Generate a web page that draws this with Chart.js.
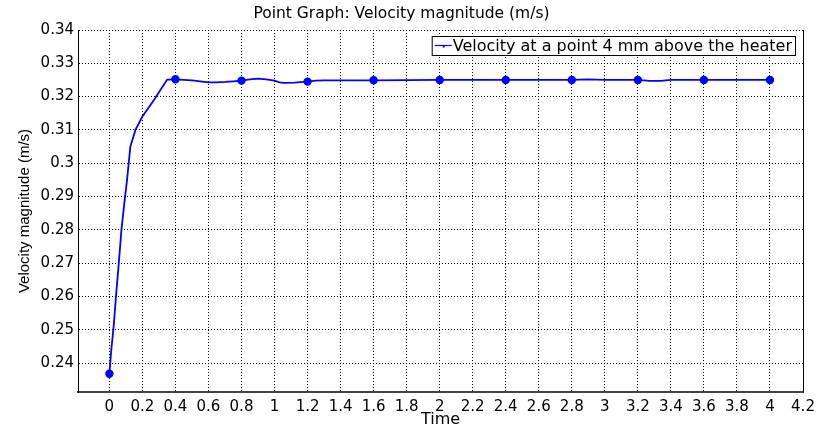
<!DOCTYPE html>
<html>
<head>
  <title>Point Graph: Velocity magnitude</title>
  <script src="https://cdn.jsdelivr.net/npm/chart.js"></script>
  <style>
    body { margin: 0; background: #fff; }
    canvas { display: block; }
  </style>
</head>
<body>
  <canvas id="pointChart" width="825" height="430"></canvas>

  <script>
    // values
    const timeValues = [0, 0.01, 0.026, 0.04, 0.057, 0.073, 0.093, 0.107, 0.127, 0.158, 0.2, 0.27, 0.35,
      0.4, 0.5, 0.55, 0.6, 0.65, 0.7, 0.75, 0.8, 0.85, 0.9, 0.95, 1.0, 1.03, 1.06, 1.12, 1.2, 1.25, 1.3,
      1.6, 2.0, 2.4, 2.8, 2.9, 3.0, 3.2, 3.27, 3.34, 3.4, 3.6, 4.0];
    const velocityValues = [0.2368, 0.2431, 0.2511, 0.26, 0.27, 0.28, 0.2891, 0.295, 0.305, 0.31, 0.314, 0.319, 0.3251,
      0.3252, 0.3249, 0.3246, 0.3243, 0.3243, 0.3244, 0.3246, 0.3248, 0.3252, 0.3254, 0.3252, 0.3248, 0.3243, 0.3241, 0.3242, 0.3245, 0.3248, 0.3249,
      0.3249, 0.325, 0.325, 0.325, 0.3252, 0.325, 0.325, 0.3247, 0.3247, 0.325, 0.325, 0.325];
    const markerTimes = [0, 0.4, 0.8, 1.2, 1.6, 2.0, 2.4, 2.8, 3.2, 3.6, 4.0];
    const xTickLabels = [0, 0.2, 0.4, 0.6, 0.8, 1, 1.2, 1.4, 1.6, 1.8, 2, 2.2, 2.4, 2.6, 2.8, 3, 3.2, 3.4, 3.6, 3.8, 4, 4.2];
    const yTickLabels = [0.24, 0.25, 0.26, 0.27, 0.28, 0.29, 0.3, 0.31, 0.32, 0.33, 0.34];
    const seriesName = 'Velocity at a point 4 mm above the heater';

    const FONT = 'DejaVu Sans';
    const points = timeValues.map((t, i) => ({ x: t, y: velocityValues[i] }));

    // legend box in the top right corner + solid right border
    const framePlugin = {
      id: 'frame',
      afterDraw(chart) {
        const { ctx, chartArea } = chart;
        ctx.save();
        ctx.strokeStyle = '#000';
        ctx.lineWidth = 1;
        ctx.beginPath();
        ctx.moveTo(chartArea.right + 0.5, chartArea.top);
        ctx.lineTo(chartArea.right + 0.5, chartArea.bottom);
        ctx.stroke();

        ctx.font = '16px "' + FONT + '"';
        const tw = ctx.measureText(seriesName).width;
        const w = tw + 24, h = 19;
        const x = chartArea.right - 8 - w, y = chartArea.top + 6;
        ctx.fillStyle = '#fff';
        ctx.fillRect(x, y, w, h);
        ctx.strokeRect(x + 0.5, y + 0.5, w, h);
        ctx.strokeStyle = '#0000ff';
        ctx.lineWidth = 1.2;
        ctx.beginPath();
        ctx.moveTo(x + 3, y + h / 2);
        ctx.lineTo(x + 20, y + h / 2);
        ctx.stroke();
        ctx.fillStyle = '#0000ff';
        ctx.fillRect(x + 11, y + h / 2, 2, 2);
        ctx.fillStyle = '#000';
        ctx.textBaseline = 'middle';
        ctx.fillText(seriesName, x + 21, y + h / 2 + 1);
        ctx.restore();
      }
    };

    new Chart(document.getElementById('pointChart'), {
      type: 'line',
      data: {
        datasets: [{
          label: seriesName,
          data: points,
          borderColor: '#0000ff',
          backgroundColor: '#0000ff',
          borderWidth: 1.8,
          tension: 0,
          pointRadius: c => markerTimes.includes(c.raw.x) ? 3.3 : 0,
          pointHoverRadius: 0
        }]
      },
      options: {
        responsive: false,
        animation: false,
        layout: { padding: { left: 0, right: 22, top: 0, bottom: 0 } },
        plugins: {
          legend: { display: false },
          tooltip: { enabled: false },
          title: {
            display: true,
            text: 'Point Graph: Velocity magnitude (m/s)',
            color: '#000',
            font: { family: FONT, size: 15.5, weight: 'normal' },
            padding: { top: 5, bottom: 6.4 }
          }
        },
        scales: {
          x: {
            type: 'linear',
            min: -0.19,
            max: 4.2,
            afterBuildTicks: s => { s.ticks = xTickLabels.map(v => ({ value: v })); },
            afterFit: s => { s.height = 38; },
            ticks: {
              color: '#000',
              padding: 6,
              maxRotation: 0,
              autoSkip: false,
              font: { family: FONT, size: 15 },
              callback: v => String(Number(v.toFixed(1)))
            },
            grid: { color: '#000', lineWidth: 1, drawTicks: false },
            border: { display: true, color: '#444', width: 2, dash: [1, 2] },
            title: {
              display: true,
              text: 'Time',
              color: '#000',
              font: { family: FONT, size: 16 },
              padding: { top: 0, bottom: 1 }
            }
          },
          y: {
            min: 0.2313,
            max: 0.34,
            afterBuildTicks: s => { s.ticks = yTickLabels.map(v => ({ value: v })); },
            afterFit: s => { s.width = 78; },
            ticks: {
              color: '#000',
              padding: 4,
              font: { family: FONT, size: 15 },
              callback: v => String(Number(v.toFixed(2)))
            },
            grid: { color: '#000', lineWidth: 1, drawTicks: false },
            border: { display: true, color: '#000', width: 1, dash: [1, 2] },
            title: {
              display: true,
              text: 'Velocity magnitude (m/s)',
              color: '#000',
              font: { family: 'Liberation Sans', size: 15 },
              padding: { top: 16, bottom: 0 }
            }
          }
        }
      },
      plugins: [framePlugin]
    });
  </script>
</body>
</html>
